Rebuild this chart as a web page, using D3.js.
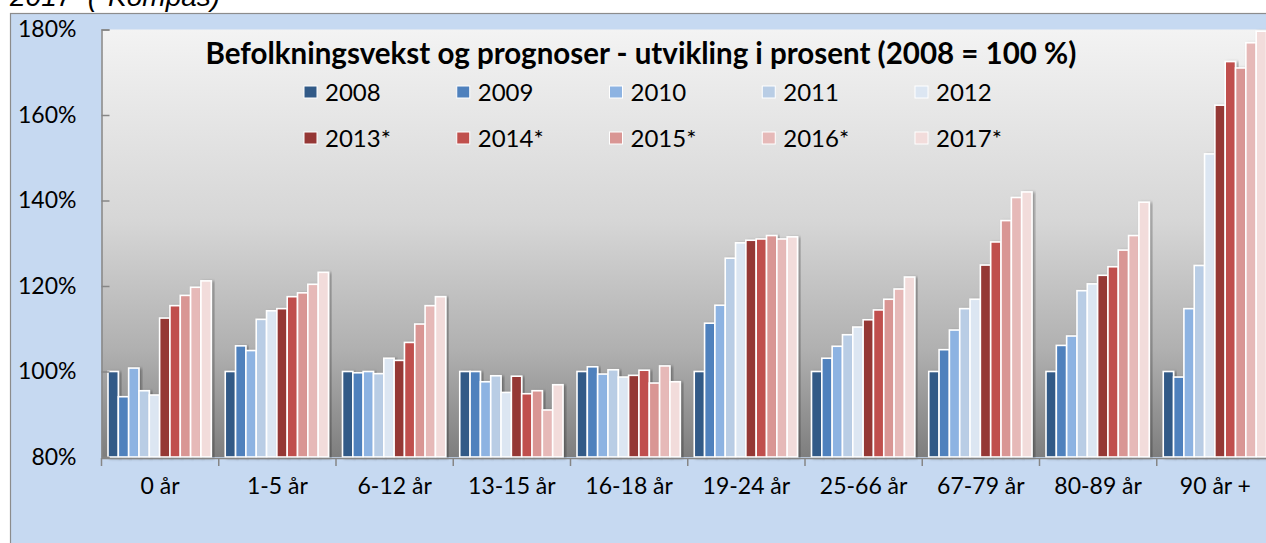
<!DOCTYPE html>
<html>
<head>
<meta charset="utf-8">
<script src="https://cdn.jsdelivr.net/npm/d3@7"></script>
<style>
  body { margin: 0; background: #fff; }
  svg { display: block; font-family: Lato, "Noto Sans", sans-serif; }
</style>
</head>
<body>
<div class="chart"></div>
<script>
// data (2008 = 100 %)
const categories = ["0 år", "1-5 år", "6-12 år", "13-15 år", "16-18 år", "19-24 år", "25-66 år", "67-79 år", "80-89 år", "90 år +"];
const years = ["2008", "2009", "2010", "2011", "2012", "2013*", "2014*", "2015*", "2016*", "2017*"];
const colors = ["#325a87", "#4f81bd", "#8db3e2", "#b9cde5", "#dce6f2", "#953735", "#c0504d", "#d99694", "#e6b9b8", "#f2dcdb"];
const yTicks = [80, 100, 120, 140, 160, 180];

// one array per category, values by year
const v0 = [100, 94.1, 100.8, 95.5, 94.5, 112.5, 115.4, 117.8, 119.7, 121.2];
const v1_5 = [100, 106.0, 104.9, 112.2, 114.2, 114.7, 117.5, 118.4, 120.4, 123.2];
const v6_12 = [100, 99.7, 100.0, 99.5, 103.1, 102.6, 106.8, 111.1, 115.4, 117.5];
const v13_15 = [100, 100, 97.6, 99.0, 95.1, 98.9, 94.8, 95.5, 91.0, 96.9];
const v16_18 = [100, 101.1, 99.4, 100.4, 98.7, 99.1, 100.3, 97.3, 101.3, 97.6];
const v19_24 = [100, 111.3, 115.5, 126.5, 130.1, 130.7, 131.0, 131.8, 131.0, 131.5];
const v25_66 = [100, 103.1, 105.9, 108.6, 110.4, 112.1, 114.4, 116.9, 119.3, 122.1];
const v67_79 = [100, 105.1, 109.7, 114.7, 116.9, 124.9, 130.3, 135.3, 140.7, 142.0];
const v80_89 = [100, 106.1, 108.3, 118.9, 120.5, 122.5, 124.5, 128.4, 131.8, 139.6];
const v90 = [100, 98.7, 114.7, 124.8, 150.9, 162.3, 172.5, 171.0, 176.9, 179.6];
const values = [v0, v1_5, v6_12, v13_15, v16_18, v19_24, v25_66, v67_79, v80_89, v90];

const W = 1266, H = 543;
const plot = { left: 101.5, top: 29.5, right: 1274, bottom: 457 };

const svg = d3.select(".chart").append("svg")
    .attr("width", W)
    .attr("height", H);

const defs = svg.append("defs");
const grad = defs.append("linearGradient")
    .attr("id", "bg")
    .attr("x1", 0).attr("y1", 0).attr("x2", 0).attr("y2", 1);
grad.append("stop").attr("offset", 0).attr("stop-color", "#f3f3f3");
grad.append("stop").attr("offset", 0.45).attr("stop-color", "#d6d6d6");
grad.append("stop").attr("offset", 0.75).attr("stop-color", "#b0b0b0");
grad.append("stop").attr("offset", 1).attr("stop-color", "#7e7e7e");

const shadow = defs.append("filter").attr("id", "shadow")
    .attr("x", "-30%").attr("y", "-10%").attr("width", "160%").attr("height", "120%");
shadow.append("feDropShadow")
    .attr("dx", 2).attr("dy", 1).attr("stdDeviation", 1.6)
    .attr("flood-color", "#000").attr("flood-opacity", 0.35);

// caption above the frame (cut at the top, as in the source)
svg.append("text")
    .attr("x", 10).attr("y", 6)
    .style("font-family", "'Liberation Sans', Arial, sans-serif")
    .style("font-style", "italic")
    .style("font-size", "28px")
    .style("white-space", "pre")
    .text("2017  (*Kompas)");

// outer frame
svg.append("rect")
    .attr("x", 10.5).attr("y", 13.5)
    .attr("width", W).attr("height", H)
    .attr("fill", "#c6d9f1")
    .attr("stroke", "#8c8c8c")
    .attr("stroke-width", 1.2);

// plot area
svg.append("rect")
    .attr("x", plot.left).attr("y", plot.top)
    .attr("width", plot.right - plot.left)
    .attr("height", plot.bottom - plot.top)
    .attr("fill", "url(#bg)");

// scales
const x0 = d3.scaleBand().domain(categories).range([plot.left, plot.right]).padding(0);
const x1 = d3.scaleBand().domain(years).range([6.5, x0.bandwidth() - 7.5]).padding(0);
const y = d3.scaleLinear().domain([80, 180]).range([plot.bottom, plot.top]);

// bars
const groups = svg.append("g").selectAll("g")
    .data(categories)
    .join("g")
    .attr("transform", d => `translate(${x0(d)},0)`);

groups.selectAll("rect")
    .data((d, i) => values[i].map((v, j) => ({ year: years[j], value: v, color: colors[j] })))
    .join("rect")
    .attr("x", d => x1(d.year))
    .attr("y", d => y(d.value))
    .attr("width", x1.bandwidth())
    .attr("height", d => y(80) - y(d.value))
    .attr("fill", d => d.color)
    .attr("stroke", "#fff")
    .attr("stroke-width", 1.6)
    .attr("filter", "url(#shadow)");

// y axis
const yAxis = d3.axisLeft(y)
    .tickValues(yTicks)
    .tickSize(-8)
    .tickPadding(25)
    .tickFormat(d => d + "%");

svg.append("g")
    .attr("class", "y-axis")
    .attr("transform", `translate(${plot.left},0)`)
    .call(yAxis)
    .call(g => g.select(".domain").attr("stroke", "#868686").attr("stroke-width", 1.5))
    .call(g => g.selectAll(".tick line").attr("stroke", "#868686").attr("stroke-width", 1.5))
    .call(g => g.selectAll(".tick text")
        .attr("fill", "#000")
        .style("font-size", "23px")
        .style("font-family", "Lato, sans-serif"));

// x axis
const xAxis = d3.axisBottom(x0).tickSize(0).tickPadding(20);
const xg = svg.append("g")
    .attr("class", "x-axis")
    .attr("transform", `translate(0,${plot.bottom + 1})`)
    .call(xAxis)
    .call(g => g.select(".domain").attr("stroke", "#868686").attr("stroke-width", 1.5))
    .call(g => g.selectAll(".tick text")
        .attr("fill", "#000")
        .attr("dy", "0.71em")
        .style("font-size", "23px")
        .style("font-family", "Lato, sans-serif"));

// category boundary ticks
xg.append("g").selectAll("line")
    .data(categories)
    .join("line")
    .attr("x1", d => x0(d)).attr("x2", d => x0(d))
    .attr("y1", 0).attr("y2", 8)
    .attr("stroke", "#868686")
    .attr("stroke-width", 1.5);

// title
svg.append("text")
    .attr("x", 641).attr("y", 64)
    .attr("text-anchor", "middle")
    .style("font-weight", "bold")
    .style("font-size", "29.5px")
    .text("Befolkningsvekst og prognoser - utvikling i prosent (2008 = 100 %)");

// legend, two rows of five
const legend = svg.append("g").selectAll("g")
    .data(years)
    .join("g")
    .attr("transform", (d, i) => `translate(${304 + (i % 5) * 152.75},${i < 5 ? 86 : 132})`);

legend.append("rect")
    .attr("width", 13).attr("height", 12)
    .attr("fill", (d, i) => colors[i])
    .attr("stroke", "#fff")
    .attr("stroke-width", 1);

legend.append("text")
    .attr("x", 21).attr("y", 6)
    .attr("dy", "0.36em")
    .style("font-size", "24px")
    .text(d => d);
</script>
</body>
</html>
